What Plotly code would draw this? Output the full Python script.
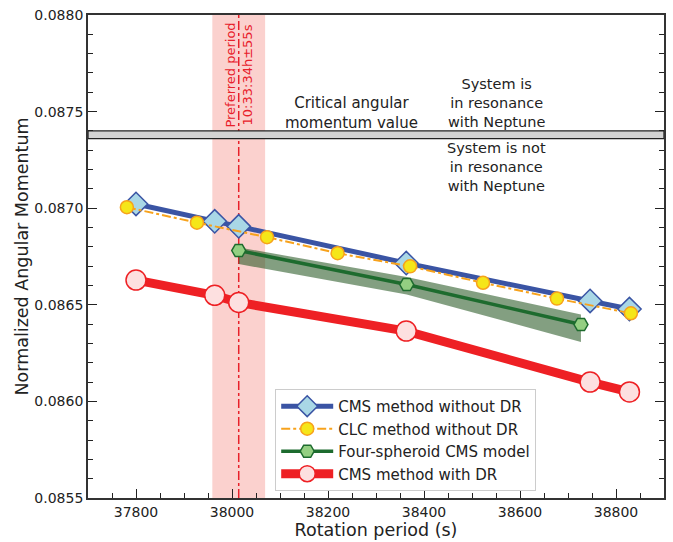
import plotly.graph_objects as go

# ---- data ----
cms_period = [37800, 37964, 38014, 38363, 38746, 38828]
cms_nodr = [0.087022, 0.086932, 0.086906, 0.086716, 0.086520, 0.086478]
cms_dr = [0.086628, 0.086549, 0.086512, 0.086364, 0.086100, 0.086049]

clc_period = [37781, 37927, 38073, 38220, 38371, 38523, 38677, 38831]
clc_nodr = [0.087005, 0.086925, 0.086850, 0.086767, 0.086699, 0.086614, 0.086532, 0.086456]

four_period = [38014, 38364, 38727]
four_val = [0.086781, 0.086605, 0.086398]
four_upper = [0.086797, 0.086644, 0.086450]
four_lower = [0.086711, 0.086553, 0.086308]

preferred_period = 38014
preferred_err = 55
critical_value = 0.08738
critical_err = 0.00002

x_range = [37700, 38900]
y_range = [0.0855, 0.0880]

FONT = "DejaVu Sans"
fig = go.Figure()

# four-spheroid uncertainty band
fig.add_trace(go.Scatter(x=four_period, y=four_upper, mode="lines", line=dict(width=0),
                         showlegend=False, hoverinfo="skip"))
fig.add_trace(go.Scatter(x=four_period, y=four_lower, mode="lines", line=dict(width=0),
                         fill="tonexty", fillcolor="rgba(30,80,25,0.55)",
                         showlegend=False, hoverinfo="skip"))

fig.add_trace(go.Scatter(
    x=cms_period, y=cms_nodr, mode="lines+markers", name="CMS method without DR",
    line=dict(color="#3a54a4", width=5),
    marker=dict(symbol="diamond", size=18, color="#a9d7e6", line=dict(color="#3a54a4", width=1.5))))
fig.add_trace(go.Scatter(
    x=clc_period, y=clc_nodr, mode="lines+markers", name="CLC method without DR",
    line=dict(color="#f7a21c", width=2, dash="dashdot"),
    marker=dict(symbol="circle", size=13, color="#f5e619", line=dict(color="#f7a21c", width=1.5))))
fig.add_trace(go.Scatter(
    x=four_period, y=four_val, mode="lines+markers", name="Four-spheroid CMS model",
    line=dict(color="#1d6b2e", width=3.5),
    marker=dict(symbol="hexagon2", size=14, color="#94cf82", line=dict(color="#1d6b2e", width=1.5))))
fig.add_trace(go.Scatter(
    x=cms_period, y=cms_dr, mode="lines+markers", name="CMS method with DR",
    line=dict(color="#ee2024", width=9),
    marker=dict(symbol="circle", size=20, color="#fde0e0", line=dict(color="#ee2024", width=1.5))))

shapes = [
    dict(type="rect", xref="x", yref="paper", x0=preferred_period - preferred_err,
         x1=preferred_period + preferred_err, y0=0, y1=1,
         fillcolor="rgba(240,90,80,0.28)", line=dict(width=0), layer="below"),
    dict(type="line", xref="x", yref="paper", x0=preferred_period, x1=preferred_period,
         y0=0, y1=1, line=dict(color="#e8202a", width=1.5, dash="dashdot"), layer="below"),
    dict(type="rect", xref="paper", yref="y", x0=0, x1=1,
         y0=critical_value - critical_err, y1=critical_value + critical_err,
         fillcolor="#d3d3d3", line=dict(color="#222222", width=1.3), layer="below"),
]

annos = []
def txt(x, y, t, size=14.5, color="#222222", angle=0):
    annos.append(dict(x=x, y=y, xref="x", yref="y", text=t, showarrow=False,
                      xanchor="center", yanchor="middle", textangle=angle,
                      font=dict(family=FONT, size=size, color=color)))

txt(38248, 0.087494, "Critical angular<br>momentum value", size=15)
txt(38552, 0.087547, "System is<br>in resonance<br>with Neptune")
txt(38552, 0.087212, "System is not<br>in resonance<br>with Neptune")
txt(38014, 0.08769, "Preferred period<br>10:33:34h±55s", size=13, color="#e8202a", angle=-90)

fig.update_layout(
    width=673, height=542,
    margin=dict(l=88, r=7, t=13, b=39),
    paper_bgcolor="white", plot_bgcolor="white",
    font=dict(family=FONT, size=14, color="#222222"),
    shapes=shapes, annotations=annos,
    legend=dict(x=0.325, y=0.2257, xanchor="left", yanchor="top", traceorder="normal",
                bgcolor="white", bordercolor="#cccccc", borderwidth=1,
                font=dict(family=FONT, size=15, color="#222222"), itemwidth=52),
)
fig.update_xaxes(
    range=x_range, tick0=37800, dtick=200, tickformat="d", ticks="inside", ticklen=9,
    tickwidth=1.3, tickcolor="#222222", showline=True, linecolor="#333333", linewidth=1.8,
    mirror=True, showgrid=False, zeroline=False,
    tickfont=dict(family=FONT, size=14, color="#222222"),
    minor=dict(dtick=50, ticks="inside", ticklen=5, tickcolor="#222222", tickwidth=1),
    title=dict(text="Rotation period (s)", font=dict(family=FONT, size=17.5, color="#222222"),
               standoff=3),
)
fig.update_yaxes(
    range=y_range, tick0=0.0855, dtick=0.0005, tickformat=".4f", ticks="inside", ticklen=9,
    tickwidth=1.3, tickcolor="#222222", showline=True, linecolor="#333333", linewidth=1.8,
    mirror="ticks", showgrid=False, zeroline=False,
    tickfont=dict(family=FONT, size=14, color="#222222"),
    minor=dict(dtick=0.0001, ticks="inside", ticklen=5, tickcolor="#222222", tickwidth=1),
    title=dict(text="Normalized Angular Momentum", font=dict(family=FONT, size=17.5, color="#222222"),
               standoff=1),
)

fig.write_html("out.html")
